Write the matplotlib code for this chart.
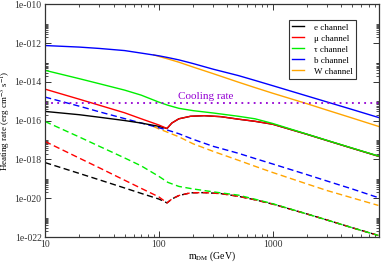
import numpy as np
import matplotlib
matplotlib.use('Agg')
import matplotlib.pyplot as plt
from matplotlib.ticker import FixedLocator, LogLocator, NullFormatter

plt.rcParams['font.family'] = ['Liberation Serif', 'DejaVu Serif']
plt.rcParams['mathtext.fontset'] = 'stix'

# dark matter masses (GeV) used for the smooth channels
m_grid = [10, 20, 30, 50, 70, 100, 120, 150, 200, 300, 500, 700, 1000, 2000, 3000, 5000, 8500]
# mass grid with the kink near 120 GeV (e and mu channels)
m_kink = [10, 20, 30, 50, 70, 100, 118, 130, 150, 190, 250, 350, 500, 700, 1000, 2000, 3000, 5000, 8500]
# W channel only above threshold
m_w = [90, 100, 120, 150, 200, 300, 500, 700, 1000, 2000, 3000, 5000, 8500]

# log10 of heating rate (erg cm^-3 s^-1), solid lines
log_e_solid = [-15.52, -15.69, -15.82, -15.99, -16.12, -16.29, -16.40, -16.12, -15.90, -15.77,
               -15.74, -15.79, -15.92, -16.03, -16.18, -16.70, -17.02, -17.42, -17.83]
log_mu_solid = [-14.37, -14.89, -15.20, -15.59, -15.90, -16.22, -16.40, -16.12, -15.90, -15.77,
                -15.74, -15.79, -15.92, -16.03, -16.18, -16.70, -17.02, -17.42, -17.83]
log_tau_solid = [-13.40, -13.83, -14.09, -14.42, -14.68, -15.04, -15.20, -15.36, -15.48, -15.60,
                 -15.77, -15.90, -16.14, -16.69, -17.01, -17.41, -17.82]
log_b_solid = [-12.12, -12.20, -12.27, -12.38, -12.51, -12.65, -12.74, -12.86, -13.05, -13.34,
               -13.67, -13.92, -14.19, -14.72, -15.03, -15.42, -15.83]
log_w_solid = [-12.60, -12.68, -12.81, -12.98, -13.23, -13.57, -14.01, -14.29, -14.58, -15.12,
               -15.45, -15.86, -16.29]

# dashed lines
log_e_dash = [-18.16, -18.72, -19.05, -19.47, -19.75, -20.04, -20.24, -20.04, -19.86, -19.72,
              -19.71, -19.76, -19.90, -20.08, -20.30, -20.81, -21.12, -21.52, -21.92]
log_mu_dash = [-17.07, -17.93, -18.43, -19.07, -19.49, -19.93, -20.24, -20.04, -19.86, -19.72,
               -19.71, -19.76, -19.90, -20.08, -20.30, -20.81, -21.12, -21.52, -21.92]
log_tau_dash = [-16.04, -16.84, -17.32, -17.92, -18.33, -18.87, -19.18, -19.39, -19.52, -19.67,
                -19.84, -20.05, -20.28, -20.81, -21.12, -21.52, -21.92]
log_b_dash = [-14.78, -15.25, -15.54, -15.89, -16.12, -16.36, -16.49, -16.67, -16.96, -17.32,
              -17.68, -17.95, -18.23, -18.78, -19.11, -19.52, -19.97]
log_w_dash = [-16.30, -16.42, -16.60, -16.83, -17.19, -17.58, -18.04, -18.35, -18.67, -19.26,
              -19.60, -19.98, -20.37]

cooling_rate = 8.0e-16

c_e, c_mu, c_tau, c_b, c_w = 'black', '#ff0000', '#00ee00', '#0000ff', '#ffa500'
c_cool = '#9400d3'

fig = plt.figure(figsize=(3.82, 2.62), dpi=100)
ax = fig.add_axes([0.118, 0.0954, 0.874, 0.8876])

lw = 1.0
dash = (0, (4.5, 2.5))

ax.plot(m_kink, 10 ** np.array(log_e_dash), color=c_e, lw=lw, ls=dash)
ax.plot(m_kink, 10 ** np.array(log_mu_dash), color=c_mu, lw=lw, ls=dash)
ax.plot(m_grid, 10 ** np.array(log_tau_dash), color=c_tau, lw=lw, ls=dash)
ax.plot(m_w, 10 ** np.array(log_w_dash), color=c_w, lw=lw, ls=dash)
ax.plot(m_grid, 10 ** np.array(log_b_dash), color=c_b, lw=lw, ls=dash)

h_e, = ax.plot(m_kink, 10 ** np.array(log_e_solid), color=c_e, lw=lw)
h_mu, = ax.plot(m_kink, 10 ** np.array(log_mu_solid), color=c_mu, lw=lw)
h_tau, = ax.plot(m_grid, 10 ** np.array(log_tau_solid), color=c_tau, lw=lw)
h_w, = ax.plot(m_w, 10 ** np.array(log_w_solid), color=c_w, lw=lw)
h_b, = ax.plot(m_grid, 10 ** np.array(log_b_solid), color=c_b, lw=lw)

ax.axhline(cooling_rate, color=c_cool, lw=1.3, ls=(0, (1, 2.4)))
ax.text(257, 1.75e-15, 'Cooling rate', color=c_cool, fontsize=8, ha='center', va='center')

ax.set_xscale('log')
ax.set_yscale('log')
ax.set_xlim(10, 8600)
ax.set_ylim(1e-22, 1e-10)

# y ticks every two decades, labelled like the original
exps = list(range(-22, -9, 2))
ax.yaxis.set_major_locator(FixedLocator([10.0 ** e for e in exps]))
ax.set_yticklabels([f"1e-{abs(e):03d}" for e in exps])
minor = [k * 10.0 ** e for e in range(-22, -10, 2) for k in range(2, 11)]
ax.yaxis.set_minor_locator(FixedLocator(minor))
ax.yaxis.set_minor_formatter(NullFormatter())

ax.xaxis.set_major_locator(FixedLocator([10, 100, 1000]))
ax.set_xticklabels(['10', '100', '1000'])
ax.xaxis.set_minor_locator(LogLocator(base=10, subs=np.arange(2, 10)))
ax.xaxis.set_minor_formatter(NullFormatter())

ax.tick_params(which='both', direction='in', top=True, right=True, labelsize=7, colors='#333333')
ax.tick_params(which='major', length=4, width=0.7, pad=2.5)
ax.tick_params(which='minor', length=2.2, width=0.6)
for s in ax.spines.values():
    s.set_linewidth(0.9)
    s.set_color('#333333')

ax.set_xlabel(r'm$_{\mathrm{DM}}$ (GeV)', fontsize=7)
ax.set_ylabel(r'Heating rate (erg cm$^{-3}$ s$^{-1}$)', fontsize=6.5)
ax.xaxis.set_label_coords(0.5, -0.055)
ax.yaxis.set_label_coords(-0.097, 0.5)

leg = ax.legend([h_e, h_mu, h_tau, h_b, h_w],
                ['e channel', 'μ channel', 'τ channel', 'b channel', 'W channel'],
                loc='upper left', bbox_to_anchor=(0.73, 0.935), fontsize=6.5,
                frameon=True, fancybox=False, edgecolor='#333333', framealpha=1,
                handlelength=1.3, handletextpad=1.1, labelspacing=0.3, borderpad=0.4,
                borderaxespad=0)
leg.get_frame().set_linewidth(0.8)

fig.savefig('out.png', dpi=100)
